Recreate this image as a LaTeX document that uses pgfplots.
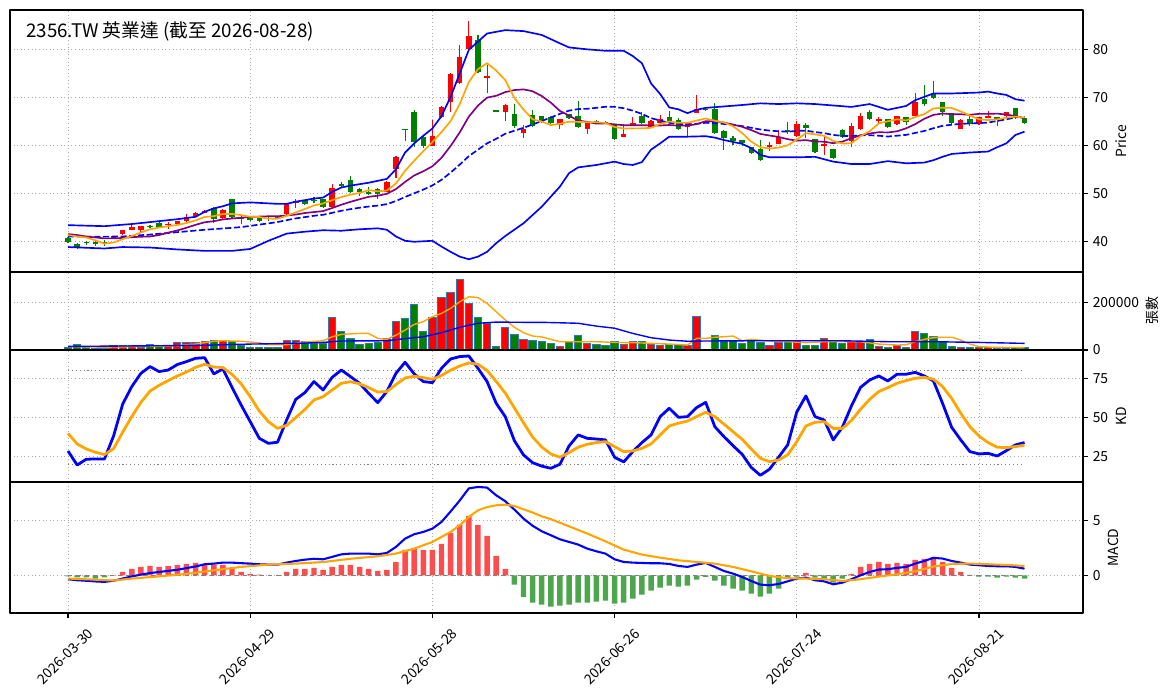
\documentclass[border=0pt]{standalone}
\usepackage{pgfplots}
\pgfplotsset{compat=1.18}
\usepackage{pgfplotstable}
\usepackage{fontspec}
\setmainfont{Noto Sans CJK TC}

\definecolor{cup}{HTML}{FF0000}
\definecolor{cdn}{HTML}{008000}
\definecolor{mred}{HTML}{FF4D4D}
\definecolor{mgreen}{HTML}{4DA64D}
\definecolor{maorange}{HTML}{FFA500}
\definecolor{mapurple}{HTML}{800080}
\definecolor{vedge}{HTML}{2F78B0}

\pgfplotstableread{
i o h l c
5 40.6 41.2 40.5 41.1
6 41.5 42.4 41.4 42.3
7 42.4 43.3 42.3 42.9
8 42.3 43.2 42.0 43.1
11 43.3 44.0 42.6 43.7
12 43.6 44.3 43.5 44.2
13 44.2 45.6 44.1 45.1
14 45.3 46.1 45.1 45.9
15 45.9 46.6 45.8 46.4
17 44.8 46.7 44.6 46.5
24 45.6 47.8 45.5 47.7
25 48.0 48.9 46.9 48.3
29 47.1 51.9 47.0 51.2
35 50.3 52.5 50.2 52.4
36 55.0 57.7 53.1 57.6
40 59.9 65.3 59.8 61.9
41 66.0 68.1 65.6 68.0
42 69.1 75.0 67.0 74.9
43 72.9 80.9 72.8 78.3
44 80.0 85.9 79.5 82.8
46 74.1 76.7 70.8 74.4
48 67.0 68.7 65.1 68.3
50 62.6 64.2 61.6 63.4
54 64.2 65.5 63.3 65.4
57 63.5 64.7 62.4 64.6
61 61.8 64.5 61.7 62.4
62 64.2 66.0 64.1 64.7
64 63.9 65.2 63.8 65.1
65 64.7 66.3 64.6 65.4
68 63.9 64.8 61.7 64.7
69 66.8 70.5 66.7 67.5
77 59.6 60.6 58.8 60.0
78 60.3 63.2 60.2 61.8
80 61.9 65.1 61.8 64.4
83 60.0 61.8 58.0 60.3
86 60.8 64.7 59.6 64.0
87 63.3 66.8 63.2 66.1
89 65.1 65.9 64.6 65.5
91 64.4 66.2 64.3 66.1
93 66.2 71.0 66.1 69.0
98 63.5 65.4 63.4 65.3
100 64.4 65.9 64.3 65.8
101 65.8 67.2 65.7 66.1
103 66.1 67.0 66.0 66.9
}\upC

\pgfplotstableread{
i o h l c
0 40.6 40.8 39.7 39.9
1 39.5 39.6 38.6 38.7
2 39.8 40.1 39.2 39.7
3 39.8 40.2 39.0 39.4
4 39.85 40.3 39.0 39.75
9 43.15 43.4 42.8 43.05
10 43.8 44.0 42.8 42.9
16 46.9 47.2 43.8 44.6
18 48.8 48.9 45.0 45.1
19 44.8 45.4 43.7 44.7
20 44.75 45.0 44.3 44.65
21 45.0 45.1 44.2 44.3
22 44.9 45.2 44.3 44.8
23 45.05 45.3 44.7 44.95
26 48.5 48.6 47.7 47.8
27 48.6 49.3 47.9 48.5
28 48.8 48.9 47.0 47.1
30 52.0 52.4 51.4 51.5
31 52.8 53.6 50.2 50.3
32 50.9 51.0 49.5 50.2
33 50.15 51.4 49.6 50.05
34 50.8 51.0 48.8 49.9
37 63.45 63.5 60.8 63.35
38 67.0 67.4 59.7 60.6
39 61.7 61.9 59.4 59.9
45 81.9 83.0 75.2 75.3
47 67.25 67.3 67.1 67.15
49 66.5 68.7 63.6 64.1
51 66.3 67.3 64.0 64.1
52 66.1 66.2 64.8 64.9
53 66.0 66.1 64.5 64.6
55 66.5 66.6 65.5 65.6
56 66.1 69.3 63.8 63.9
58 65.1 65.2 64.5 64.6
59 64.8 65.0 64.4 64.6
60 64.2 64.4 61.2 61.3
63 66.1 67.0 64.6 64.7
66 65.8 67.1 64.8 64.9
67 65.3 65.6 63.2 63.3
70 67.55 67.7 67.3 67.45
71 67.6 68.9 62.5 62.6
72 63.0 63.1 59.0 61.5
73 61.5 62.0 60.0 60.8
74 61.1 61.2 59.8 60.4
75 59.6 59.7 58.4 58.5
76 59.2 61.1 56.8 56.9
79 63.2 64.9 62.4 62.8
81 64.2 64.7 61.6 63.7
82 61.3 61.4 58.6 58.7
84 59.2 59.3 57.3 57.4
85 63.2 63.3 61.6 61.7
88 66.9 67.4 65.4 65.5
90 65.4 65.5 63.6 63.9
92 65.8 65.9 64.2 64.9
94 69.7 72.6 68.2 68.6
95 71.0 73.5 69.7 69.8
96 69.0 69.1 66.1 66.9
97 66.7 66.8 64.6 64.7
99 65.5 66.1 64.0 64.4
102 65.8 65.9 64.1 65.5
104 67.7 67.8 65.5 65.6
105 65.6 65.7 64.6 64.7
}\dnC

\pgfplotsset{
  base/.style={
    scale only axis, width=772.56pt, anchor=south west,
    xmin=-6.37, xmax=111.42,
    xtick={0,20,40,60,80,100},
    grid=major,
    major grid style={line width=0.6pt, dotted, color=black!32},
    axis line style={line width=0.8pt},
    xtick pos=bottom, ytick pos=right, yticklabel pos=right,
    tick align=outside, major tick length=3.5pt,
    every tick/.style={black, line width=0.8pt},
    ticklabel style={font=\fontsize{10}{12}\selectfont},
    label style={font=\fontsize{10}{12}\selectfont},
    /pgf/number format/assume math mode=true,
    /pgf/number format/1000 sep={},
    scaled y ticks=false,
    line join=round,
  },
  upper/.style={base, xticklabels={}, xtick style={draw=none}},
  candle/.style={draw=none, mark=none, forget plot, error bars/.cd, y dir=both, y explicit, error mark=none},
}

\begin{document}
\begin{tikzpicture}
\useasboundingbox (0,0) rectangle (843.84pt,502.56pt);

% ---------------- Price panel ----------------
\begin{axis}[upper, at={(7.2pt,306.72pt)}, height=188.64pt,
  ymin=33.6, ymax=88.2, ytick={40,50,60,70,80},
  ylabel={Price}, ylabel style={at={(axis description cs:1.0354,0.5)}, anchor=center}]
% wicks
\addplot[candle, error bar style={draw=cup, line width=0.8pt, solid}]
  table[x=i, y=c, y error plus expr=\thisrow{h}-\thisrow{c}, y error minus expr=\thisrow{c}-\thisrow{l}] {\upC};
\addplot[candle, error bar style={draw=cdn, line width=0.8pt, solid}]
  table[x=i, y=c, y error plus expr=\thisrow{h}-\thisrow{c}, y error minus expr=\thisrow{c}-\thisrow{l}] {\dnC};
% bodies
\addplot[candle, error bar style={draw=cup, line width=3.94pt, line cap=butt, solid}]
  table[x=i, y expr=(\thisrow{o}+\thisrow{c})/2, y error expr={max(abs(\thisrow{c}-\thisrow{o})/2,0.1)}] {\upC};
\addplot[candle, error bar style={draw=cdn, line width=3.94pt, line cap=butt, solid}]
  table[x=i, y expr=(\thisrow{o}+\thisrow{c})/2, y error expr={max(abs(\thisrow{c}-\thisrow{o})/2,0.1)}] {\dnC};
% Bollinger upper
\addplot[blue, line width=1.2pt] coordinates {(0,43.36)(4,43.15)(7,43.6)(10,44.2)(12,44.6)(14,45.1)(15,46.15)(16,46.85)(17,47.3)(18,47.9)(20,48.1)(23,47.8)(24,47.8)(25,48.25)(27,48.9)(28,49.1)(29,50.3)(30,51.2)(31,51.6)(33,52.2)(35,53.0)(36,55.0)(37,58.5)(38,60.4)(39,62.0)(40,63.5)(41,66.1)(42,70.1)(43,75.0)(44,79.9)(45,81.6)(46,83.3)(48,84.0)(50,83.8)(52,83.0)(54,81.25)(55,80.4)(57,80.0)(59,79.7)(61,79.7)(62,78.6)(63,77.1)(64,72.9)(65,70.7)(66,67.9)(67,67.5)(68,66.7)(69,67.4)(70,67.8)(72,68.1)(74,68.4)(76,68.75)(78,68.6)(80,68.75)(82,68.6)(84,68.3)(86,68.0)(88,68.6)(90,67.4)(92,68.2)(93,69.4)(94,70.1)(95,70.8)(97,70.8)(100,71.0)(101,71.2)(102,70.8)(103,70.5)(104,69.6)(105,69.3)};
% Bollinger lower
\addplot[blue, line width=1.2pt] coordinates {(0,38.8)(4,38.5)(6,38.8)(9,38.7)(12,38.3)(15,38.0)(18,38.0)(20,38.4)(22,40.1)(24,41.6)(26,42.0)(28,42.3)(30,42.2)(32,42.5)(34,42.7)(35,42.4)(36,41.0)(37,40.1)(38,39.9)(40,40.1)(41,38.9)(42,37.8)(43,36.8)(44,36.25)(45,36.8)(46,37.8)(47,39.6)(48,41.1)(50,43.75)(52,47.2)(54,51.4)(55,54.2)(56,55.4)(58,55.9)(60,56.6)(61,56.1)(62,55.9)(63,56.5)(64,59.1)(65,60.4)(66,61.8)(68,61.8)(70,61.9)(71,61.6)(72,61.1)(74,60.3)(75,59.4)(76,58.0)(77,57.5)(80,57.5)(82,57.6)(84,56.6)(86,56.1)(88,56.1)(90,56.7)(92,56.25)(94,56.4)(95,56.9)(96,57.6)(97,58.2)(99,58.5)(101,58.7)(102,59.6)(103,60.4)(104,62.15)(105,62.85)};
% MA20 dashed
\addplot[blue, line width=1.2pt, dash pattern=on 4.4pt off 1.9pt] coordinates {(0,41.0)(3,40.95)(6,41.0)(9,41.4)(12,41.9)(15,42.4)(18,42.8)(19,42.96)(20,43.2)(21,43.48)(22,43.73)(23,44.01)(24,44.4)(25,44.77)(26,45.04)(27,45.32)(28,45.52)(29,45.93)(30,46.36)(31,46.69)(32,46.99)(33,47.24)(34,47.44)(35,47.74)(36,48.39)(37,49.23)(38,50.0)(39,50.77)(40,51.63)(41,52.81)(42,54.32)(43,55.98)(44,57.74)(45,59.09)(46,60.41)(47,61.35)(48,62.41)(49,63.05)(50,63.65)(51,64.34)(52,65.07)(53,65.8)(54,66.57)(55,67.23)(56,67.55)(57,67.61)(58,67.81)(59,68.04)(60,68.01)(61,67.73)(62,67.22)(63,66.54)(64,65.66)(65,65.16)(66,64.69)(67,64.5)(68,64.32)(69,64.49)(70,64.69)(71,64.62)(72,64.45)(73,64.26)(74,64.0)(75,63.65)(76,63.3)(77,63.07)(78,62.93)(79,62.84)(80,63.0)(81,63.06)(82,62.76)(83,62.54)(84,62.16)(85,61.97)(86,61.93)(87,62.07)(88,62.1)(89,62.0)(90,61.83)(91,62.0)(92,62.17)(93,62.58)(94,62.99)(95,63.56)(96,64.06)(97,64.29)(98,64.47)(99,64.55)(100,64.62)(101,64.74)(102,65.08)(103,65.41)(104,65.82)(105,65.97)};
% MA10 purple
\addplot[mapurple, line width=1.2pt] coordinates {(0,41.5)(1,41.3)(2,41.0)(3,40.8)(4,40.6)(5,40.6)(6,40.7)(7,40.85)(8,40.95)(9,41.0)(10,41.3)(11,41.8)(12,42.25)(13,42.82)(14,43.43)(15,43.96)(16,44.19)(17,44.55)(18,44.75)(19,44.91)(20,45.09)(21,45.15)(22,45.21)(23,45.2)(24,45.38)(25,45.57)(26,45.89)(27,46.09)(28,46.29)(29,46.94)(30,47.62)(31,48.22)(32,48.76)(33,49.27)(34,49.49)(35,49.9)(36,50.88)(37,52.37)(38,53.72)(39,54.59)(40,55.63)(41,57.4)(42,59.87)(43,62.69)(44,65.98)(45,68.27)(46,69.94)(47,70.32)(48,71.09)(49,71.51)(50,71.66)(51,71.27)(52,70.27)(53,68.9)(54,67.16)(55,66.19)(56,65.15)(57,64.89)(58,64.52)(59,64.57)(60,64.36)(61,64.19)(62,64.17)(63,64.18)(64,64.15)(65,64.13)(66,64.23)(67,64.1)(68,64.11)(69,64.4)(70,65.02)(71,65.04)(72,64.72)(73,64.33)(74,63.86)(75,63.17)(76,62.37)(77,62.04)(78,61.75)(79,61.28)(80,60.97)(81,61.08)(82,60.8)(83,60.75)(84,60.45)(85,60.77)(86,61.48)(87,62.09)(88,62.46)(89,62.73)(90,62.68)(91,62.92)(92,63.54)(93,64.41)(94,65.53)(95,66.34)(96,66.63)(97,66.49)(98,66.47)(99,66.36)(100,66.55)(101,66.55)(102,66.61)(103,66.4)(104,66.1)(105,65.59)};
% MA5 orange
\addplot[maorange, line width=1.2pt] coordinates {(0,41.3)(1,41.0)(2,40.8)(3,40.2)(4,39.5)(5,39.74)(6,40.46)(7,41.1)(8,41.84)(9,42.5)(10,42.86)(11,43.14)(12,43.4)(13,43.8)(14,44.36)(15,45.06)(16,45.24)(17,45.7)(18,45.7)(19,45.46)(20,45.12)(21,45.06)(22,44.72)(23,44.7)(24,45.3)(25,46.02)(26,46.72)(27,47.46)(28,47.88)(29,48.58)(30,49.22)(31,49.72)(32,50.06)(33,50.66)(34,50.4)(35,50.58)(36,52.04)(37,54.68)(38,56.78)(39,58.78)(40,60.68)(41,62.76)(42,65.06)(43,68.6)(44,73.18)(45,75.86)(46,77.12)(47,75.58)(48,73.58)(49,69.84)(50,67.46)(51,65.42)(52,64.96)(53,64.22)(54,64.48)(55,64.92)(56,64.88)(57,64.82)(58,64.82)(59,64.66)(60,63.8)(61,63.5)(62,63.52)(63,63.54)(64,63.64)(65,64.46)(66,64.96)(67,64.68)(68,64.68)(69,65.16)(70,65.58)(71,65.12)(72,64.76)(73,63.98)(74,62.56)(75,60.76)(76,59.62)(77,59.32)(78,59.52)(79,60.0)(80,61.18)(81,62.54)(82,62.28)(83,61.98)(84,60.9)(85,60.36)(86,60.42)(87,61.9)(88,62.94)(89,64.56)(90,65.0)(91,65.42)(92,65.18)(93,65.88)(94,66.5)(95,67.68)(96,67.84)(97,67.8)(98,67.06)(99,66.22)(100,65.42)(101,65.26)(102,65.42)(103,65.74)(104,65.98)(105,65.76)};
\node[anchor=west, inner sep=0pt, font=\fontsize{13.5}{16}\selectfont] at (axis description cs:0.0149,0.918) {2356.TW 英業達 (截至 2026-08-28)};
\end{axis}

% ---------------- Volume panel ----------------
\begin{axis}[upper, at={(7.2pt,250.56pt)}, height=56.16pt,
  ymin=0, ymax=329.8, ytick={0,200}, yticklabels={0,200000},
  ylabel={張數}, ylabel style={at={(axis description cs:1.0643,0.5)}, anchor=center}]
\addplot[ybar, bar width=0.8, bar shift=0pt, fill=cup, draw=vedge, line width=0.7pt] coordinates {(5,17)(6,17)(7,17)(8,11)(11,14)(12,31)(13,31)(14,31)(15,35)(17,42)(24,39)(25,39)(29,137)(35,49)(36,120)(40,137)(41,222)(42,244)(43,298)(44,197)(46,113)(48,96)(50,45)(54,14)(57,28)(61,24)(62,38)(64,24)(65,20)(68,20)(69,141)(77,21)(78,31)(80,39)(83,49)(86,34)(87,34)(89,14)(91,17)(93,79)(98,10)(100,10)(101,10)(103,7)};
\addplot[ybar, bar width=0.8, bar shift=0pt, fill=cdn, draw=vedge, line width=0.7pt] coordinates {(0,11)(1,24)(2,11)(3,6)(4,6)(9,22)(10,14)(16,39)(18,38)(19,17)(20,10)(21,10)(22,10)(23,10)(26,37)(27,28)(28,28)(30,77)(31,49)(32,24)(33,28)(34,31)(37,134)(38,193)(39,77)(45,138)(47,14)(49,66)(51,39)(52,34)(53,28)(55,38)(56,62)(58,24)(59,18)(60,35)(63,35)(66,24)(67,24)(70,1)(71,62)(72,38)(73,42)(74,28)(75,42)(76,32)(79,39)(81,18)(82,18)(84,39)(85,28)(88,45)(90,11)(92,11)(94,70)(95,59)(96,31)(97,15)(99,10)(102,7)(104,10)(105,10)};
\addplot[maorange, line width=1pt] coordinates {(0,14)(2,13)(4,12)(6,13)(8,15)(10,16)(12,18)(14,25)(16,37)(17,39)(19,37)(21,30)(22,22)(24,22)(26,34)(28,39)(29,56)(30,66)(32,70)(33,70)(34,49)(35,45)(36,63)(37,84)(38,108)(39,120)(40,141)(41,155)(42,176)(43,204)(44,225)(45,222)(46,197)(47,162)(48,127)(49,96)(50,73)(51,59)(52,55)(53,45)(54,35)(56,35)(58,35)(60,32)(62,31)(64,28)(66,25)(68,21)(69,49)(70,49)(71,54)(72,56)(73,59)(74,39)(75,45)(77,38)(79,35)(81,31)(83,35)(85,35)(87,35)(89,25)(91,21)(92,22)(93,35)(94,45)(95,52)(96,54)(97,54)(98,42)(99,25)(100,14)(102,11)(105,10)};
\addplot[blue, line width=1pt] coordinates {(0,15)(10,18)(15,20)(20,25)(25,28)(28,32)(30,38)(35,39)(37,48)(39,56)(41,73)(43,96)(45,113)(47,118)(50,117)(52,117)(56,113)(58,101)(60,92)(62,70)(64,52)(66,42)(68,37)(70,38)(75,39)(80,39)(85,39)(90,35)(95,35)(100,32)(105,28)};
\end{axis}

% ---------------- KD panel ----------------
\begin{axis}[upper, at={(7.2pt,155.52pt)}, height=95.04pt,
  ymin=8.53, ymax=93.14, ytick={25,50,75},
  ylabel={KD}, ylabel style={at={(axis description cs:1.0354,0.5)}, anchor=center}]
\addplot[gray, dotted, line width=0.8pt] coordinates {(0,80)(105,80)};
\addplot[gray, dotted, line width=0.8pt] coordinates {(0,20)(105,20)};
\addplot[blue, line width=2pt] coordinates {(0,28.4)(1,19.4)(2,23.1)(3,23.3)(4,23.3)(5,38.0)(6,58.5)(7,69.7)(8,78.2)(9,82.5)(10,79.3)(11,80.3)(12,83.8)(13,85.7)(14,87.8)(15,88.2)(16,77.8)(17,81.0)(18,69.2)(19,57.9)(20,47.2)(21,36.5)(22,33.3)(23,34.0)(24,48.3)(25,61.5)(26,65.8)(27,72.9)(28,67.5)(29,75.6)(30,80.3)(31,76.1)(32,71.8)(33,65.4)(34,59.4)(35,66.5)(36,78.2)(37,85.3)(38,77.8)(39,72.9)(40,72.2)(41,81.4)(42,87.4)(43,88.9)(44,89.3)(45,81.4)(46,72.9)(47,59.0)(48,50.4)(49,35.0)(50,25.9)(51,20.9)(52,18.7)(53,17.3)(54,19.9)(55,31.6)(56,38.7)(57,36.5)(58,36.1)(59,35.5)(60,24.4)(61,21.4)(62,28.0)(63,33.8)(64,38.7)(65,50.4)(66,55.8)(67,50.0)(68,50.4)(69,56.2)(70,59.6)(71,44.0)(72,37.6)(73,31.8)(74,26.3)(75,17.9)(76,12.8)(77,16.7)(78,24.4)(79,32.3)(80,53.4)(81,63.7)(82,50.4)(83,48.3)(84,35.5)(85,43.6)(86,57.3)(87,69.2)(88,73.9)(89,76.5)(90,73.3)(91,77.6)(92,77.6)(93,78.8)(94,76.5)(95,73.3)(96,59.0)(97,43.6)(98,35.5)(99,28.0)(100,26.5)(101,26.9)(102,25.2)(103,28.6)(104,32.3)(105,33.8)};
\addplot[maorange, line width=2pt] coordinates {(0,39.7)(1,32.9)(2,29.7)(3,27.6)(4,26.1)(5,29.9)(6,40.5)(7,50.5)(8,59.5)(9,66.8)(10,70.5)(11,73.5)(12,76.5)(13,79.0)(14,82.0)(15,84.0)(16,82.2)(17,81.9)(18,77.5)(19,71.5)(20,63.2)(21,54.0)(22,47.2)(23,42.9)(24,44.8)(25,49.8)(26,55.0)(27,61.1)(28,63.2)(29,67.5)(30,71.8)(31,72.8)(32,71.5)(33,69.0)(34,66.2)(35,66.5)(36,71.0)(37,75.2)(38,76.3)(39,75.4)(40,74.3)(41,76.8)(42,80.2)(43,82.9)(44,84.8)(45,84.0)(46,80.0)(47,73.0)(48,65.5)(49,56.0)(50,46.5)(51,37.3)(52,31.0)(53,26.5)(54,24.4)(55,27.4)(56,30.8)(57,32.7)(58,33.8)(59,34.4)(60,31.2)(61,28.0)(62,28.4)(63,30.1)(64,32.9)(65,38.7)(66,44.4)(67,46.2)(68,47.6)(69,50.4)(70,53.2)(71,50.4)(72,45.7)(73,40.8)(74,35.9)(75,29.7)(76,23.7)(77,21.6)(78,22.6)(79,25.9)(80,34.4)(81,44.4)(82,46.8)(83,47.2)(84,42.9)(85,42.9)(86,47.9)(87,55.1)(88,61.5)(89,66.5)(90,69.0)(91,71.8)(92,73.5)(93,75.0)(94,75.6)(95,74.4)(96,69.7)(97,62.2)(98,52.6)(99,44.0)(100,38.0)(101,33.8)(102,30.8)(103,30.6)(104,31.2)(105,32.1)};
\end{axis}

% ---------------- MACD panel ----------------
\begin{axis}[base, at={(7.2pt,61.2pt)}, height=94.32pt,
  ymin=-3.43, ymax=8.48, ytick={0,5},
  xticklabels={2026-03-30,2026-04-29,2026-05-28,2026-06-26,2026-07-24,2026-08-21},
  xticklabel style={xshift=13.5pt, yshift=-2pt, rotate=45, anchor=north east},
  ylabel={MACD}, ylabel style={at={(axis description cs:1.028,0.5)}, anchor=center}]
\addplot[ybar, bar width=0.6, bar shift=0pt, fill=mred, draw=none] coordinates {(5,0.02)(6,0.3)(7,0.58)(8,0.76)(9,0.85)(10,0.76)(11,0.85)(12,0.94)(13,1.03)(14,1.12)(15,0.97)(16,0.97)(17,0.94)(18,0.6)(19,0.3)(20,0.12)(21,0.05)(24,0.3)(25,0.58)(26,0.58)(27,0.67)(28,0.48)(29,0.76)(30,0.94)(31,0.94)(32,0.76)(33,0.58)(34,0.4)(35,0.48)(36,1.2)(37,2.3)(38,2.48)(39,2.3)(40,2.3)(41,2.85)(42,3.85)(43,4.6)(44,5.4)(45,4.58)(46,3.58)(47,1.76)(48,0.58)(81,0.21)(86,0.12)(87,0.76)(88,1.03)(89,1.21)(90,1.03)(91,1.12)(92,1.03)(93,1.39)(94,1.48)(95,1.67)(96,1.21)(97,0.67)(98,0.3)(99,0.03)};
\addplot[ybar, bar width=0.6, bar shift=0pt, fill=mgreen, draw=none] coordinates {(0,-0.1)(1,-0.2)(2,-0.2)(3,-0.3)(4,-0.2)(49,-0.85)(50,-1.97)(51,-2.48)(52,-2.67)(53,-2.85)(54,-2.76)(55,-2.67)(56,-2.48)(57,-2.48)(58,-2.39)(59,-2.3)(60,-2.58)(61,-2.48)(62,-2.12)(63,-1.76)(64,-1.39)(65,-1.12)(66,-0.94)(67,-1.03)(68,-0.94)(69,-0.39)(70,-0.15)(71,-0.48)(72,-0.94)(73,-1.21)(74,-1.39)(75,-1.67)(76,-1.94)(77,-1.67)(78,-1.21)(79,-0.3)(80,-0.12)(82,-0.21)(83,-0.3)(84,-0.67)(85,-0.3)(100,-0.12)(101,-0.12)(102,-0.21)(103,-0.12)(104,-0.21)(105,-0.3)};
\addplot[gray, dashed, line width=0.8pt] coordinates {(0,0)(105,0)};
\addplot[blue, line width=1.5pt] coordinates {(0,-0.36)(1,-0.45)(2,-0.5)(3,-0.56)(4,-0.6)(5,-0.5)(6,-0.3)(7,-0.1)(8,0.06)(9,0.2)(10,0.3)(11,0.4)(12,0.5)(13,0.65)(14,0.8)(15,1.0)(16,1.06)(17,1.15)(18,1.15)(19,1.1)(20,1.06)(21,1.0)(22,0.97)(23,0.97)(24,1.15)(25,1.3)(26,1.42)(27,1.5)(28,1.45)(29,1.67)(30,1.9)(31,1.97)(32,1.97)(33,1.97)(34,1.9)(35,2.03)(36,2.58)(37,3.33)(38,3.73)(39,3.94)(40,4.24)(41,4.85)(42,5.8)(43,6.8)(44,7.9)(45,8.03)(46,7.97)(47,7.27)(48,6.73)(49,5.97)(50,5.15)(51,4.5)(52,4.0)(53,3.64)(54,3.27)(55,3.03)(56,2.79)(57,2.42)(58,2.18)(59,1.97)(60,1.45)(61,1.21)(62,1.15)(63,1.12)(64,1.09)(65,1.09)(66,1.03)(67,0.85)(68,0.76)(69,0.97)(70,1.12)(71,0.76)(72,0.39)(73,0.15)(74,-0.15)(75,-0.52)(76,-0.85)(77,-0.91)(78,-0.79)(79,-0.55)(80,-0.3)(81,-0.21)(82,-0.45)(83,-0.55)(84,-0.82)(85,-0.67)(86,-0.36)(87,0)(88,0.3)(89,0.52)(90,0.55)(91,0.67)(92,0.76)(93,1.06)(94,1.3)(95,1.58)(96,1.52)(97,1.3)(98,1.15)(99,0.97)(100,0.91)(101,0.85)(102,0.82)(103,0.82)(104,0.76)(105,0.6)};
\addplot[maorange, line width=1.5pt] coordinates {(0,-0.3)(3,-0.4)(5,-0.48)(7,-0.3)(10,-0.1)(13,0.12)(16,0.45)(19,0.76)(22,0.97)(25,1.06)(28,1.2)(31,1.5)(34,1.73)(36,1.97)(38,2.42)(40,3.03)(42,3.94)(43,4.55)(44,5.3)(45,5.9)(46,6.2)(47,6.36)(48,6.42)(49,6.3)(50,6.0)(51,5.7)(52,5.36)(53,5.1)(55,4.45)(57,3.79)(59,3.09)(61,2.33)(63,1.88)(65,1.6)(67,1.36)(69,1.21)(71,1.06)(73,0.76)(75,0.36)(77,-0.06)(79,-0.27)(81,-0.3)(83,-0.36)(85,-0.52)(87,-0.36)(89,-0.12)(91,0.09)(93,0.36)(95,0.79)(97,1.03)(99,1.06)(101,1.0)(103,0.94)(105,0.85)};
\end{axis}
\end{tikzpicture}
\end{document}
